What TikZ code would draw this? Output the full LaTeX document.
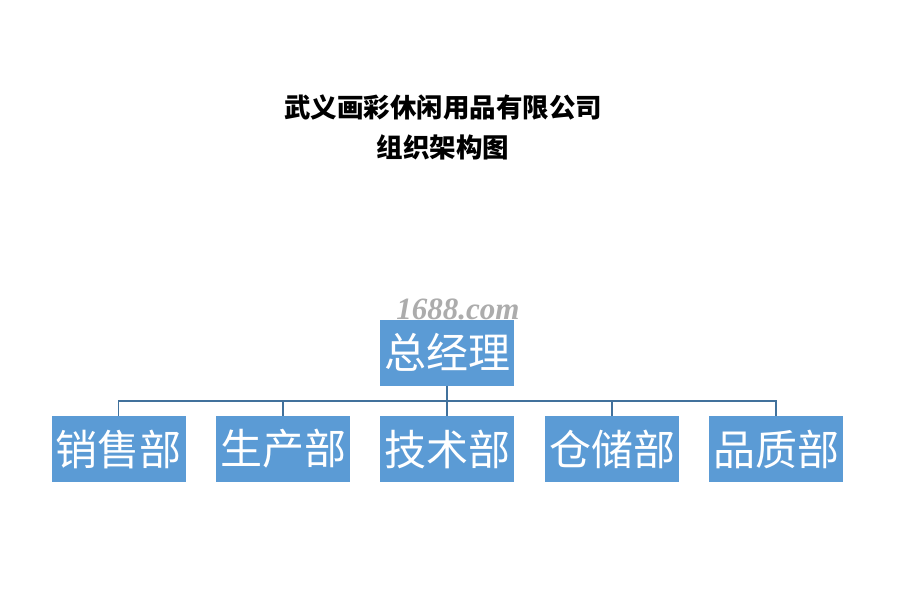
\documentclass[tikz,border=0pt]{standalone}
\usepackage{fontspec}
\newfontfamily\cjk{Noto Sans CJK SC}
\newfontfamily\wm{Liberation Serif}
\definecolor{boxblue}{HTML}{5B9BD5}
\definecolor{linkblue}{HTML}{41719C}
\begin{document}
\begin{tikzpicture}[x=1pt,y=-1pt,
  orgbox/.style={fill=boxblue,draw=none,minimum width=134pt,minimum height=66pt,inner sep=0pt,
    font=\cjk\fontsize{42}{44}\selectfont,text=white},
  link/.style={draw=linkblue,line width=1.6pt}]
\useasboundingbox (0,0) rectangle (909,615);
\fill[white] (0,0) rectangle (909,615);
\node[font=\cjk\bfseries\fontsize{26.5}{28}\selectfont] (t1) at (443,107) {武义画彩休闲用品有限公司};
\node[font=\cjk\bfseries\fontsize{26.5}{28}\selectfont] (t2) at (443,147) {组织架构图};
\node[font=\wm\bfseries\itshape\fontsize{31}{33}\selectfont,text=gray!65] (wm) at (458,309) {1688.com};
\node[orgbox] (gm) at (447,352.5) {总经理};
\node[orgbox] (d1) at (118.5,449) {销售部};
\node[orgbox] (d2) at (283,449) {生产部};
\node[orgbox] (d3) at (447,449) {技术部};
\node[orgbox] (d4) at (612,449) {仓储部};
\node[orgbox] (d5) at (776,449) {品质部};
\coordinate (bus) at (447,401);
\draw[link] (gm.south) -- (d3.north);
\draw[link] (d1.north) |- (bus) -| (d5.north);
\draw[link] (d2.north) -- (d2.north |- bus);
\draw[link] (d4.north) -- (d4.north |- bus);
\end{tikzpicture}
\end{document}
